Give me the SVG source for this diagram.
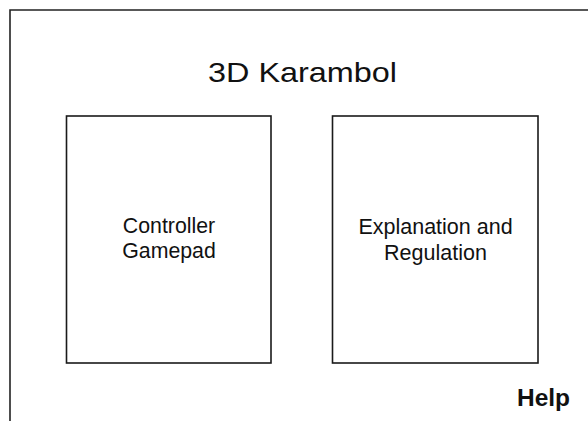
<svg xmlns="http://www.w3.org/2000/svg" width="588" height="421" viewBox="0 0 588 421">
  <style>
    .frame { fill: none; stroke: #222; stroke-width: 1.6; }
    .box { fill: #fff; stroke: #1a1a1a; stroke-width: 1.6; }
    .label { font-family: "Liberation Sans", Arial, sans-serif; fill: #111; text-anchor: middle; }
  </style>
  <rect width="588" height="421" fill="#fff"/>
  <!-- screen outline: top and left edges -->
  <path class="frame" d="M10 421 V10 H588"/>

  <g id="title">
    <text class="label" x="302.5" y="82" font-size="28.5" textLength="189" lengthAdjust="spacingAndGlyphs">3D Karambol</text>
  </g>

  <g id="controller">
    <rect class="box" x="66.5" y="116" width="204.5" height="247"/>
    <text class="label" x="169" y="233" font-size="21.3">Controller</text>
    <text class="label" x="169" y="258" font-size="21.3">Gamepad</text>
  </g>

  <g id="explanation">
    <rect class="box" x="332.5" y="116" width="205.5" height="247"/>
    <text class="label" x="435.5" y="234" font-size="21.5">Explanation and</text>
    <text class="label" x="435.5" y="260" font-size="21.5">Regulation</text>
  </g>

  <g id="help">
    <text class="label" x="543.5" y="406" font-size="24.5" font-weight="bold">Help</text>
  </g>

  <g id="connectors"></g>
</svg>
